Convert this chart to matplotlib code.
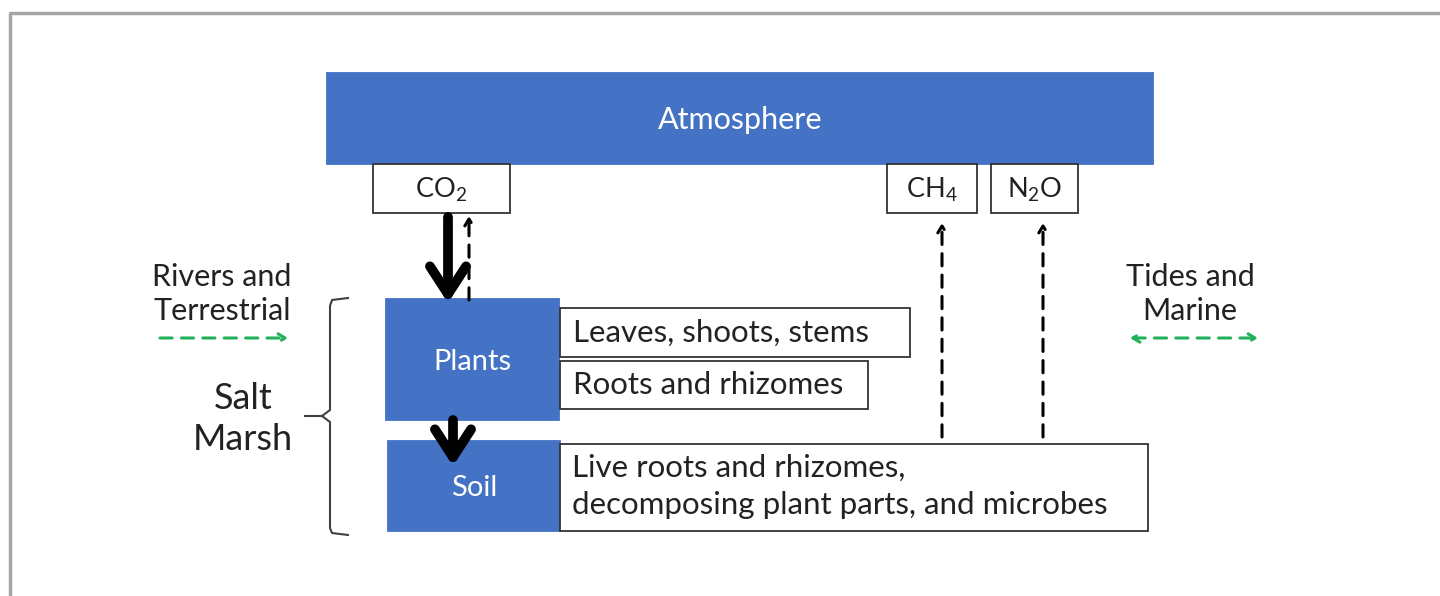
import matplotlib.pyplot as plt
from matplotlib.patches import Rectangle
from matplotlib.lines import Line2D

plt.rcParams['font.family'] = ['Lato', 'DejaVu Sans']
plt.rcParams['mathtext.fontset'] = 'custom'
plt.rcParams['mathtext.rm'] = 'Lato'
plt.rcParams['mathtext.it'] = 'Lato:italic'
plt.rcParams['mathtext.bf'] = 'Lato:bold'

# labels of the diagram
top_label = 'Atmosphere'
gas_labels = ['CO$_2$', 'CH$_4$', 'N$_2$O']
pool_labels = ['Plants', 'Soil']
plant_parts = ['Leaves, shoots, stems', 'Roots and rhizomes']
soil_text = 'Live roots and rhizomes,\ndecomposing plant parts, and microbes'
side_labels = ['Rivers and\nTerrestrial', 'Tides and\nMarine']
group_label = 'Salt\nMarsh'

blue = '#4472C4'
green = '#22B05A'
txt = '#222222'

fig = plt.figure(figsize=(14.4, 5.96), dpi=100)
ax = fig.add_axes([0, 0, 1, 1])
ax.set_xlim(0, 1440)
ax.set_ylim(596, 0)
ax.axis('off')

# frame (only top and left visible)
ax.plot([10, 10, 1440], [596, 13, 13], color='#a6a6a6', lw=2.5)


def box(x0, y0, x1, y1, fc, ec, lw=1.3):
    ax.add_patch(Rectangle((x0, y0), x1 - x0, y1 - y0, fc=fc, ec=ec, lw=lw))


# atmosphere
box(327, 73, 1153, 164, blue, blue)
ax.text(740, 120, top_label, color='white', fontsize=22, ha='center', va='center')

# gas boxes
gas_boxes = [(373, 164, 510, 213), (887, 164, 977, 213), (991, 164, 1078, 213)]
for (x0, y0, x1, y1), lab in zip(gas_boxes, gas_labels):
    box(x0, y0, x1, y1, 'white', '#333333')
    ax.text((x0 + x1) / 2, (y0 + y1) / 2 + 1, lab, fontsize=19.5, ha='center', va='center',
            color=txt)

# plants and soil pools
pool_boxes = [(386, 299, 559, 420), (388, 441, 560, 531)]
for (x0, y0, x1, y1), lab in zip(pool_boxes, pool_labels):
    box(x0, y0, x1, y1, blue, blue)
    ax.text((x0 + x1) / 2, (y0 + y1) / 2 + 2, lab, color='white', fontsize=21,
            ha='center', va='center')

part_boxes = [(560, 308, 910, 357), (560, 361, 868, 409)]
for (x0, y0, x1, y1), lab in zip(part_boxes, plant_parts):
    box(x0, y0, x1, y1, 'white', '#333333')
    ax.text(573, (y0 + y1) / 2, lab, fontsize=22.5, ha='left', va='center', color=txt)

box(560, 444, 1148, 531, 'white', '#333333')
ax.text(572, 486, soil_text, fontsize=22.5, ha='left', va='center', color=txt,
        linespacing=1.4)

# flux arrows
thick = dict(arrowstyle='->,head_length=1.0,head_width=0.65', lw=7, color='black',
             mutation_scale=20, shrinkA=0, shrinkB=0)
ax.annotate('', xy=(448, 303), xytext=(448, 217), arrowprops=thick)
ax.annotate('', xy=(453, 466), xytext=(453, 420), arrowprops=thick)
for x, y0, y1 in [(469, 300, 216), (942, 437, 223), (1043, 437, 223)]:
    ax.annotate('', xy=(x, y1), xytext=(x, y0),
                arrowprops=dict(arrowstyle='->,head_length=0.5,head_width=0.3', lw=2.2,
                                color='black', linestyle=(0, (4, 3)), shrinkA=0, shrinkB=0))

# lateral exchange
ax.text(222, 294, side_labels[0], fontsize=22, ha='center', va='center', color=txt,
        linespacing=1.3)
ax.text(1190, 294, side_labels[1], fontsize=22, ha='center', va='center', color=txt,
        linespacing=1.3)
ax.annotate('', xy=(288, 338), xytext=(160, 338),
            arrowprops=dict(arrowstyle='->,head_length=0.5,head_width=0.3', lw=2.2,
                            color=green, linestyle=(0, (4, 3)), shrinkA=0, shrinkB=0))
ax.annotate('', xy=(1258, 338), xytext=(1130, 338),
            arrowprops=dict(arrowstyle='<->,head_length=0.5,head_width=0.3', lw=2.2,
                            color=green, linestyle=(0, (4, 3)), shrinkA=0, shrinkB=0))

# salt marsh brace
ax.add_line(Line2D([348, 332, 330, 330, 322, 305], [298, 300, 306, 410, 416, 416],
                   color='#404040', lw=1.5))
ax.add_line(Line2D([322, 330, 330, 332, 348], [416, 422, 528, 533, 535],
                   color='#404040', lw=1.5))
ax.text(243, 419, group_label, fontsize=26, ha='center', va='center', color=txt,
        linespacing=1.3)

fig.savefig('out.png', dpi=100)
